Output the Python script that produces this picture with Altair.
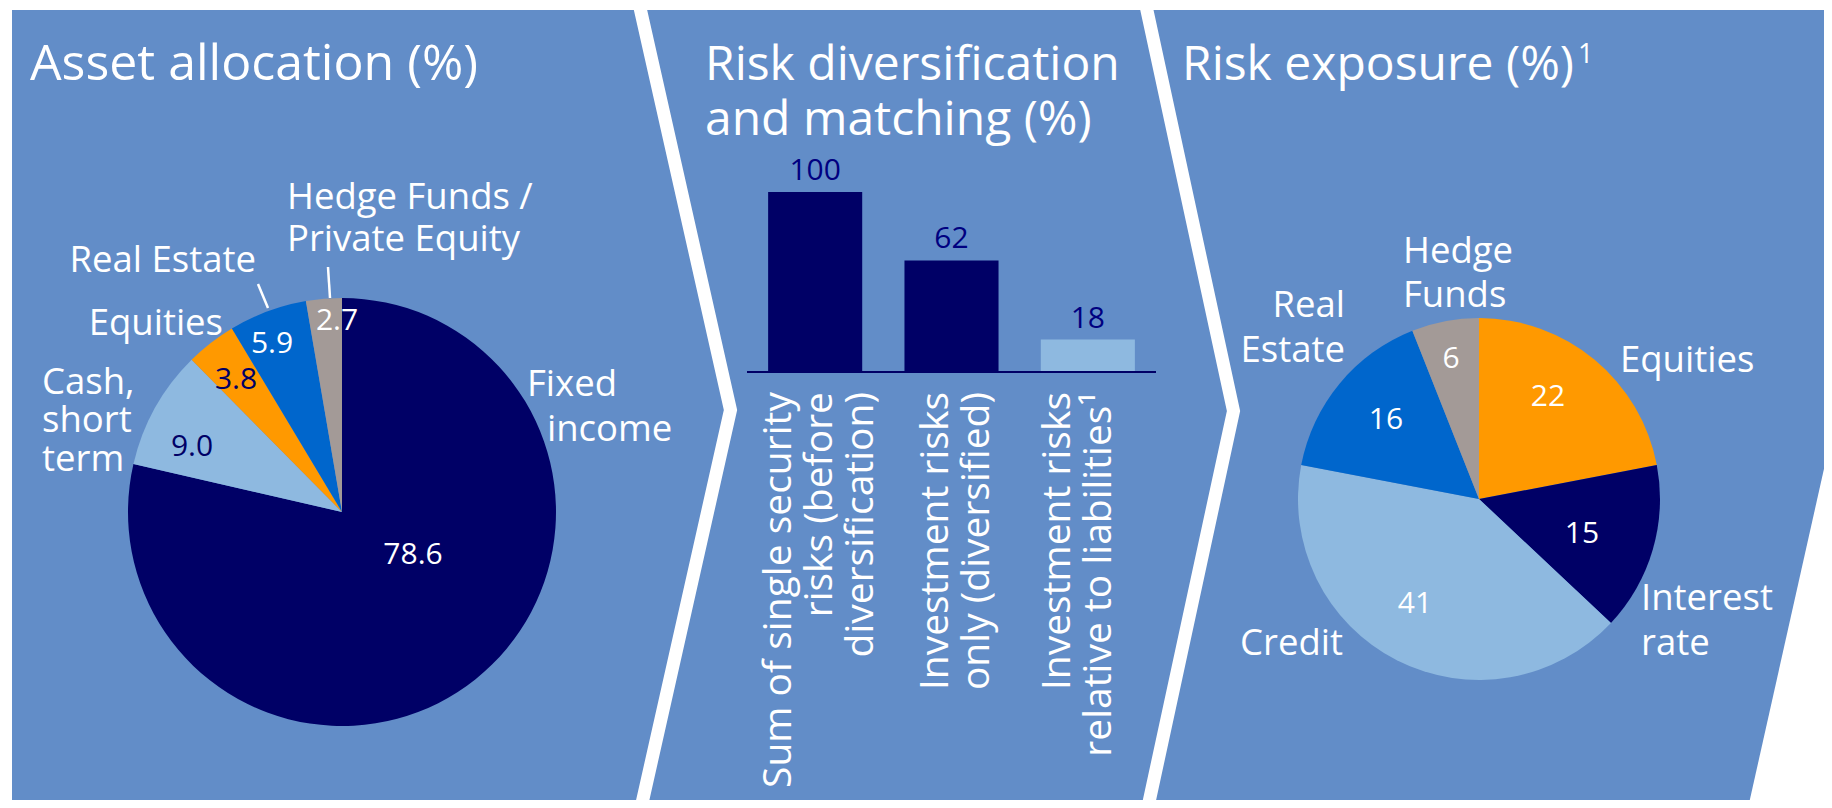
import altair as alt
import pandas as pd

# ------------------------------------------------------------------ data
alloc_cats = ["Fixed income", "Cash, short term", "Equities", "Real Estate",
              "Hedge Funds / Private Equity"]
alloc_vals = [78.6, 9.0, 3.8, 5.9, 2.7]

bar_cats = ["Sum of single security risks (before diversification)",
            "Investment risks only (diversified)",
            "Investment risks relative to liabilities¹"]
bar_lines = ["Sum of single security\nrisks (before\ndiversification)",
             "Investment risks\nonly (diversified)",
             "Investment risks\nrelative to liabilities¹"]
bar_vals = [100, 62, 18]

risk_cats = ["Equities", "Interest rate", "Credit", "Real Estate", "Hedge Funds"]
risk_vals = [22, 15, 41, 16, 6]

titles = ["Asset allocation (%)", "Risk diversification\nand matching (%)",
          "Risk exposure (%)"]
footnote_mark = "1"

# ------------------------------------------------------------------ styles
PANEL = "#628DC8"
NAVY = "#000066"
LIGHT = "#8EB9E0"
ORANGE = "#FF9900"
MID = "#0066CC"
TAUPE = "#A39A97"
FONT = "Open Sans"

alloc_colors = {"Fixed income": NAVY, "Cash, short term": LIGHT, "Equities": ORANGE,
                "Real Estate": MID, "Hedge Funds / Private Equity": TAUPE}
risk_colors = {"Equities": ORANGE, "Interest rate": NAVY, "Credit": LIGHT,
               "Real Estate": MID, "Hedge Funds": TAUPE}
bar_colors = [NAVY, NAVY, LIGHT]

OFF = 8  # page margin


def p(v):
    return v - OFF


# ------------------------------------------------------------------ layout (page px)
PIE1 = dict(cx=342, cy=512, r=214)
PIE3 = dict(cx=1479, cy=499, r=181)

# outer labels: (text, x, baseline y, align)
outer_labels = [
    ("Hedge Funds /", 287, 209, "left"), ("Private Equity", 287, 251, "left"),
    ("Real Estate", 256, 272, "right"),
    ("Equities", 223, 335, "right"),
    ("Cash,", 42, 394, "left"), ("short", 42, 432, "left"), ("term", 42, 471, "left"),
    ("Fixed", 527, 396, "left"), ("income", 547, 441, "left"),
    ("Hedge", 1403, 263, "left"), ("Funds", 1403, 307, "left"),
    ("Real", 1345, 317, "right"), ("Estate", 1345, 362, "right"),
    ("Equities", 1620, 372, "left"),
    ("Interest", 1641, 610, "left"), ("rate", 1641, 655, "left"),
    ("Credit", 1343, 655, "right"),
]
# value label anchors (centre x, baseline y)
alloc_val_pos = [(413, 564), (192, 456), (236, 389), (272, 353), (337, 330)]
alloc_val_col = ["white", NAVY, NAVY, "white", "white"]
risk_val_pos = [(1548, 406), (1582, 543), (1415, 613), (1386, 429), (1451, 368)]
# rotated bar-label anchors: first-line baseline x, top end y
bar_label_x = [791, 948, 1070]
BAR_LABEL_TOP = 392
# titles: left x, first baseline y, font size
title_x = [30, 705, 1182]
title_size = [50, 48, 48]

# ------------------------------------------------------------------ frames
alloc_df = pd.DataFrame({
    "cat": alloc_cats, "value": alloc_vals, "idx": range(len(alloc_cats)),
    "fill": [alloc_colors[c] for c in alloc_cats],
})
risk_df = pd.DataFrame({
    "cat": risk_cats, "value": risk_vals, "idx": range(len(risk_cats)),
    "fill": [risk_colors[c] for c in risk_cats],
})
bar_df = pd.DataFrame({"cat": bar_cats, "value": bar_vals, "lines": bar_lines,
                       "fill": bar_colors, "lx": [p(v) for v in bar_label_x]})

val_df = pd.DataFrame({
    "text": [f"{v:.1f}" for v in alloc_vals] + [str(v) for v in risk_vals],
    "x": [p(a) for a, _ in alloc_val_pos] + [p(a) for a, _ in risk_val_pos],
    "y": [p(b) for _, b in alloc_val_pos] + [p(b) for _, b in risk_val_pos],
    "col": alloc_val_col + ["white"] * len(risk_vals),
})
lab_df = pd.DataFrame([{"text": t, "x": p(x), "y": p(y), "align": a}
                       for t, x, y, a in outer_labels])

one = alt.Data(values=[{}])

# ------------------------------------------------------------------ background shapes
panel = alt.Chart(one).mark_rect(color=PANEL).encode(
    x=alt.value(p(12)), x2=alt.value(p(1840)), y=alt.value(p(10)), y2=alt.value(p(830)))

gap_rows = []
for g, (tx, ty, s) in enumerate([(730.5, 410, 0.225), (1233.5, 411, 0.216)]):
    for i, yy in enumerate([-20, ty, 830]):
        gap_rows.append({"g": g, "i": i, "x": p(tx - s * abs(yy - ty)), "y": p(yy)})
gaps = alt.Chart(pd.DataFrame(gap_rows)).mark_line(
    color="white", strokeWidth=13, strokeJoin="miter", strokeCap="butt").encode(
    x=alt.X("x:Q", scale=None), y=alt.Y("y:Q", scale=None),
    detail="g:N", order="i:Q")

edge_rows = [{"y": p(yy), "x": p(1817 - 0.224 * (yy - 500)), "x2": p(1900)}
             for yy in (380, 830)]
right_edge = alt.Chart(pd.DataFrame(edge_rows)).mark_area(
    color="white", orient="horizontal").encode(
    y=alt.Y("y:Q", scale=None), x=alt.X("x:Q", scale=None), x2="x2:Q")

# ------------------------------------------------------------------ pies
pie1 = alt.Chart(alloc_df).mark_arc(outerRadius=PIE1["r"]).encode(
    theta=alt.Theta("value:Q", stack=True),
    order=alt.Order("idx:Q"),
    color=alt.Color("fill:N", scale=None),
    x=alt.value(p(PIE1["cx"])), y=alt.value(p(PIE1["cy"])))

pie3 = alt.Chart(risk_df).mark_arc(outerRadius=PIE3["r"]).encode(
    theta=alt.Theta("value:Q", stack=True),
    order=alt.Order("idx:Q"),
    color=alt.Color("fill:N", scale=None),
    x=alt.value(p(PIE3["cx"])), y=alt.value(p(PIE3["cy"])))

leader_rows = [{"k": 0, "i": 0, "x": p(258), "y": p(284)}, {"k": 0, "i": 1, "x": p(268), "y": p(308)},
               {"k": 1, "i": 0, "x": p(328), "y": p(267)}, {"k": 1, "i": 1, "x": p(330), "y": p(298)}]
leaders = alt.Chart(pd.DataFrame(leader_rows)).mark_line(color="white", strokeWidth=2.5).encode(
    x=alt.X("x:Q", scale=None), y=alt.Y("y:Q", scale=None), detail="k:N", order="i:Q")

# ------------------------------------------------------------------ bars
xband = alt.X("cat:N", sort=bar_cats, axis=None,
              scale=alt.Scale(domain=bar_cats, range=[p(747), p(1156)],
                              paddingInner=0.31, paddingOuter=0.155))
ylin = alt.Y("value:Q", axis=None,
             scale=alt.Scale(domain=[0, 100], range=[p(372), p(192)]))

bars = alt.Chart(bar_df).mark_bar().encode(
    x=xband, y=ylin, color=alt.Color("fill:N", scale=None))
bar_vals_txt = alt.Chart(bar_df).mark_text(
    dy=-12, baseline="alphabetic", fontSize=30, font=FONT, color="#000080").encode(
    x=xband, y=ylin, text="value:Q")
bar_axis = alt.Chart(one).mark_rule(color=NAVY, strokeWidth=2).encode(
    x=alt.value(p(747)), x2=alt.value(p(1156)), y=alt.value(p(372)))
bar_labels = alt.Chart(bar_df).mark_text(
    angle=270, align="right", baseline="alphabetic", lineBreak="\n", lineHeight=41,
    fontSize=39, font=FONT, color="white").encode(
    x=alt.X("lx:Q", scale=None), y=alt.value(p(BAR_LABEL_TOP)), text="lines:N")

# ------------------------------------------------------------------ texts
title_df = pd.DataFrame({"text": titles, "x": [p(v) for v in title_x],
                         "y": [p(80)] * 3, "fs": title_size})
title_txt = alt.Chart(title_df).mark_text(
    align="left", baseline="alphabetic", font=FONT, color="white",
    lineBreak="\n", lineHeight=55).encode(
    x=alt.X("x:Q", scale=None), y=alt.Y("y:Q", scale=None), text="text:N",
    size=alt.Size("fs:Q", scale=None))
sup_txt = alt.Chart(pd.DataFrame({"text": [footnote_mark]})).mark_text(
    align="left", baseline="alphabetic", fontSize=27, font=FONT, color="white").encode(
    x=alt.value(p(1578)), y=alt.value(p(63)), text="text:N")

val_txt = alt.Chart(val_df).mark_text(
    align="center", baseline="alphabetic", fontSize=30, font=FONT).encode(
    x=alt.X("x:Q", scale=None), y=alt.Y("y:Q", scale=None), text="text:N",
    color=alt.Color("col:N", scale=None))

lab_layers = []
for a in ("left", "right"):
    lab_layers.append(
        alt.Chart(lab_df[lab_df["align"] == a]).mark_text(
            align=a, baseline="alphabetic", fontSize=36.5, font=FONT, color="white").encode(
            x=alt.X("x:Q", scale=None), y=alt.Y("y:Q", scale=None), text="text:N"))

chart = alt.layer(
    panel, gaps, right_edge, pie1, pie3, leaders, bars, bar_axis, bar_vals_txt,
    bar_labels, title_txt, sup_txt, val_txt, *lab_layers
).resolve_scale(
    x="independent", y="independent", theta="independent", color="independent",
    size="independent"
).properties(
    width=1816, height=792, padding=0, background="white",
    autosize=alt.AutoSizeParams(type="none"),
).configure_view(stroke=None)

chart.save("out.html", embed_options={"renderer": "svg", "actions": False})
